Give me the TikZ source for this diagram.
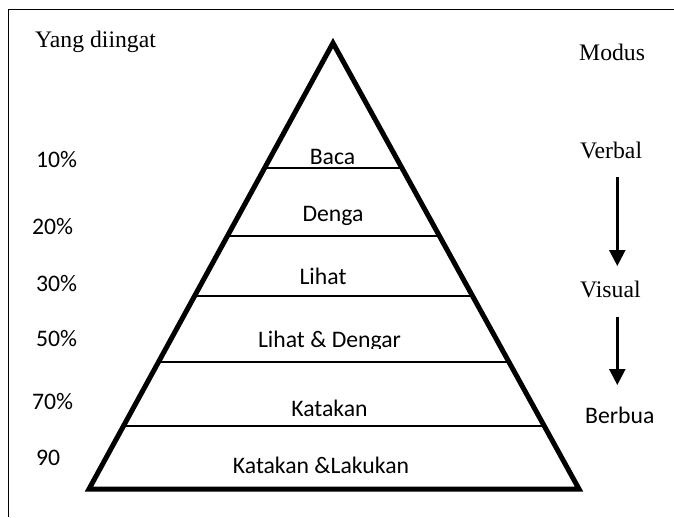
\documentclass[tikz,border=0pt]{standalone}
\usepackage{fontspec}
\setmainfont{Liberation Serif}
\newfontfamily\carlitofont{Carlito}
\usetikzlibrary{calc,arrows.meta}
\begin{document}
\begin{tikzpicture}[x=1pt,y=-1pt,
  serif/.style={font=\fontsize{23.7}{26}\selectfont, inner sep=0pt, anchor=base west},
  sans/.style={font=\carlitofont\fontsize{23.7}{26}\selectfont, inner sep=0pt, anchor=base west},
  lvl/.style={font=\carlitofont\fontsize{23.7}{26}\selectfont, inner sep=0pt, anchor=base},
  divider/.style={line width=1.8pt},
  pyr/.style={line width=5pt, line join=miter},
  downarrow/.style={line width=2.5pt, -{Triangle[width=16pt,length=16pt]}},
  frame/.style={line width=1.5pt}]
\useasboundingbox (0,0) rectangle (674,517);
% frame (top and left)
\coordinate (fTR) at (674,9.5);
\coordinate (fTL) at (8.5,9.5);
\coordinate (fBL) at (8.5,517);
\draw[frame] (fTR) -- (fTL) -- (fBL);
% pyramid
\coordinate (A) at (333,43);
\coordinate (BL) at (89,489);
\coordinate (BR) at (579,489);
\foreach \t/\n in {0.2803/1,0.4327/2,0.5673/3,0.7152/4,0.8587/5}{
  \draw[divider] ($(A)!\t!(BL)$) -- ($(A)!\t!(BR)$);
}
\draw[pyr] (A) -- (BL) -- (BR) -- cycle;
% level labels
\node[lvl] (l1) at (332.5,164) {Baca};
\node[lvl] (l2) at (333,221) {Denga};
\node[lvl] (l3) at (323,284) {Lihat};
\begin{scope}
\clip (200,300) rectangle (470,348.5);
\node[lvl] (l4) at (329.5,347) {Lihat \& Dengar};
\end{scope}
\node[lvl] (l5) at (329.5,416) {Katakan};
\node[lvl] (l6) at (321,473) {Katakan \&Lakukan};
% left labels
\node[serif] (yd) at (35,47) {Yang diingat};
\node[sans] (p1) at (36,167) {10\%};
\node[sans] (p2) at (32,234) {20\%};
\node[sans] (p3) at (36,291) {30\%};
\node[sans] (p4) at (36,346) {50\%};
\node[sans] (p5) at (32,409) {70\%};
\node[sans] (p6) at (36,465) {90};
% right labels
\node[serif] (mo) at (579,60) {Modus};
\node[serif] (ve) at (580,158) {Verbal};
\node[serif] (vi) at (580,297) {Visual};
\node[sans] (be) at (585,423) {Berbua};
% arrows
\coordinate (a1s) at (617.3,177);
\coordinate (a1e) at (617.3,266);
\coordinate (a2s) at (617.3,317);
\coordinate (a2e) at (617.3,385);
\draw[downarrow] (a1s) -- (a1e);
\draw[downarrow] (a2s) -- (a2e);
\end{tikzpicture}
\end{document}
